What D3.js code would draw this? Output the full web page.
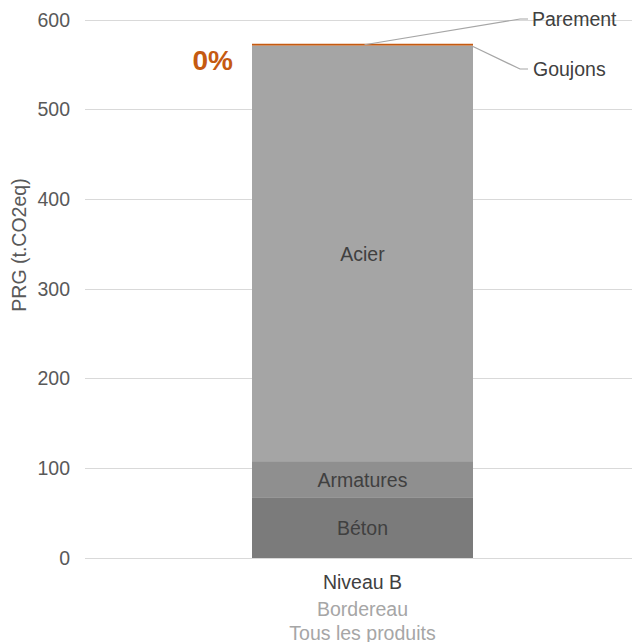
<!DOCTYPE html>
<html><head><meta charset="utf-8">
<script src="https://cdn.jsdelivr.net/npm/d3@7"></script>
<style>body{margin:0;background:#fff}svg{display:block;font-family:"Liberation Sans",Arial,sans-serif}</style>
</head><body><svg id="c" width="632" height="642"></svg>
<script>
const categories = ["Niveau B"];
const subLabels = ["Bordereau", "Tous les produits"];
const seriesNames = ["Béton", "Armatures", "Acier", "Goujons", "Parement"];
const seriesValues = [67, 41, 463, 0.5, 2];
const seriesColors = ["#7b7b7b", "#8f8f8f", "#a5a5a5", "#a5a5a5", "#c55a11"];
const yTicks = [0, 100, 200, 300, 400, 500, 600];
const pctLabel = "0%";

const FS = 19.5;
const svg = d3.select("#c");
const y = d3.scaleLinear().domain([0, 600]).range([558, 20]);
const x = d3.scaleBand().domain(categories).range([85, 640]).paddingInner(0).paddingOuter(0.3);
// grid
svg.append("g").selectAll("line").data(yTicks).join("line")
  .attr("x1", 85).attr("x2", 632).attr("y1", d => y(d)).attr("y2", d => y(d))
  .attr("stroke", "#d9d9d9").attr("stroke-width", 1).attr("shape-rendering", "crispEdges");
const yAxis = d3.axisLeft(y).tickValues(yTicks).tickSize(0).tickPadding(0);
const ga = svg.append("g").attr("transform", "translate(70,0)").call(yAxis);
ga.select(".domain").remove();
ga.selectAll("text").attr("fill", "#595959").attr("font-size", FS).attr("font-family", "Liberation Sans, Arial, sans-serif");
svg.append("text").attr("transform", "translate(26,245) rotate(-90)").attr("text-anchor", "middle")
  .attr("fill", "#595959").attr("font-size", FS).text("PRG (t.CO2eq)");

// stack
let acc = 0;
const stack = seriesValues.map((v, i) => { const s = {name: seriesNames[i], y0: acc, y1: acc + v, color: seriesColors[i]}; acc += v; return s; });
const bx = 252, bw = 221;
svg.append("g").selectAll("rect").data(stack).join("rect")
  .attr("x", bx).attr("width", bw)
  .attr("y", d => y(d.y1)).attr("height", d => y(d.y0) - y(d.y1))
  .attr("fill", d => d.color);
svg.append("g").selectAll("text").data(stack.slice(0, 3)).join("text")
  .attr("x", bx + bw / 2).attr("y", d => (y(d.y0) + y(d.y1)) / 2 + 7)
  .attr("text-anchor", "middle").attr("fill", "#404040").attr("font-size", FS).text(d => d.name);

// leader lines
const gj = stack[3], pm = stack[4];
svg.append("polyline").attr("points", `${bx + bw},${y(gj.y1) + 1} 520,${69} 528,69`)
  .attr("fill", "none").attr("stroke", "#a6a6a6").attr("stroke-width", 1.2);
svg.append("text").attr("x", 533).attr("y", 76).attr("fill", "#404040").attr("font-size", FS).text("Goujons");
svg.append("polyline").attr("points", `${bx + bw / 2 + 2},${y(pm.y1) + 1} 520,19 528,19`)
  .attr("fill", "none").attr("stroke", "#a6a6a6").attr("stroke-width", 1.2);
svg.append("text").attr("x", 532).attr("y", 26).attr("fill", "#404040").attr("font-size", FS).text("Parement");

svg.append("text").attr("x", 233).attr("y", 70).attr("text-anchor", "end").attr("fill", "#c55a11")
  .attr("font-size", 28).attr("font-weight", "bold").text(pctLabel);

// category labels
const cx = bx + bw / 2;
svg.append("text").attr("x", cx).attr("y", 589).attr("text-anchor", "middle").attr("fill", "#404040").attr("font-size", FS).text(categories[0]);
svg.selectAll(".sub").data(subLabels).join("text").attr("class", "sub")
  .attr("x", cx).attr("y", (d, i) => 616 + i * 24).attr("text-anchor", "middle").attr("fill", "#a6a6a6").attr("font-size", FS).text(d => d);
</script></body></html>
